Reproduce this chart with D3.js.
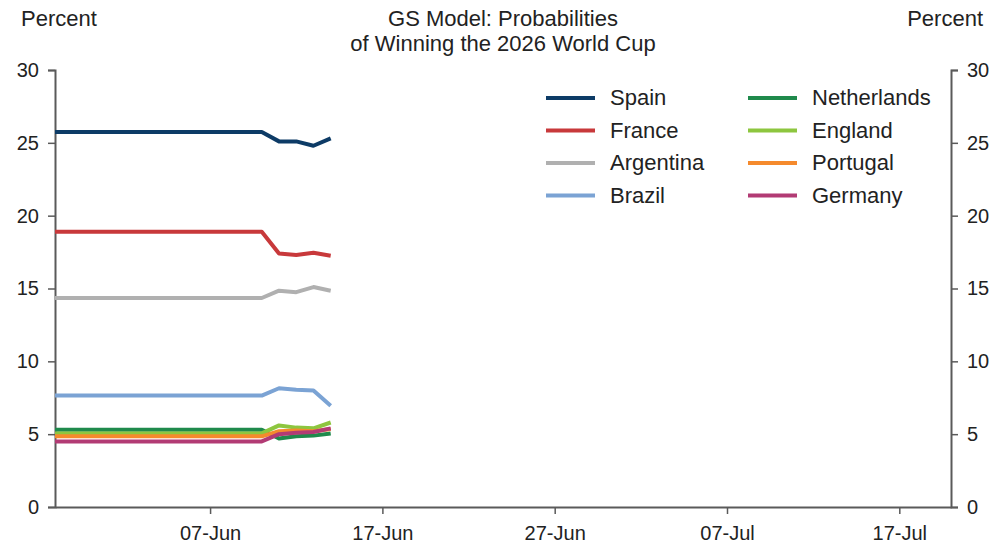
<!DOCTYPE html>
<html>
<head>
<meta charset="utf-8">
<script src="https://cdn.jsdelivr.net/npm/d3@7"></script>
<style>
  body { margin: 0; background: #fff; }
  svg text { font-family: "Liberation Sans", Arial, sans-serif; fill: #222; }
</style>
</head>
<body>
<svg width="1005" height="544"></svg>
<script>
const svg = d3.select("svg");
const margin = { top: 70, right: 54, bottom: 37, left: 55 };
const width = 1005 - margin.left - margin.right;
const height = 544 - margin.top - margin.bottom;

// data
const dates = ["2026-05-29", "2026-06-10", "2026-06-11", "2026-06-12", "2026-06-13", "2026-06-14"];
const countries = ["Spain", "France", "Argentina", "Brazil", "Netherlands", "England", "Portugal", "Germany"];
const spain = [25.75, 25.75, 25.1, 25.1, 24.8, 25.3];
const france = [18.9, 18.9, 17.4, 17.3, 17.45, 17.25];
const argentina = [14.35, 14.35, 14.85, 14.75, 15.1, 14.85];
const brazil = [7.65, 7.65, 8.15, 8.05, 8.0, 6.95];
const netherlands = [5.3, 5.3, 4.7, 4.85, 4.9, 5.05];
const england = [5.05, 5.05, 5.6, 5.45, 5.4, 5.8];
const portugal = [4.85, 4.85, 5.2, 5.25, 5.2, 5.35];
const germany = [4.5, 4.5, 5.0, 5.1, 5.15, 5.4];
const colors = ["#0d3b66", "#c8393b", "#b0b0b0", "#7ba3d4", "#1f8a4c", "#8dc63f", "#f58a2d", "#b23b74"];
const yTicks = [0, 5, 10, 15, 20, 25, 30];
const xTicks = ["2026-06-07", "2026-06-17", "2026-06-27", "2026-07-07", "2026-07-17"];

const parse = d3.timeParse("%Y-%m-%d");
const series = [spain, france, argentina, brazil, netherlands, england, portugal, germany]
  .map((vals, i) => ({ name: countries[i], color: colors[i],
    values: vals.map((v, j) => ({ date: parse(dates[j]), value: v })) }));

const x = d3.scaleTime()
  .domain([parse("2026-05-29"), parse("2026-07-20")])
  .range([0, width]);
const y = d3.scaleLinear().domain([0, 30]).range([height, 0]);

const g = svg.append("g").attr("transform", `translate(${margin.left},${margin.top})`);

// axes
const axisColor = "#5a5a5a";
function styleAxis(sel) {
  sel.select(".domain").attr("stroke", axisColor).attr("stroke-width", 2);
  sel.selectAll(".tick line").attr("stroke", axisColor).attr("stroke-width", 1.5);
  sel.selectAll(".tick text").attr("fill", "#222").style("font-size", "20px")
    .style("font-family", "'Liberation Sans', Arial, sans-serif");
}

g.append("g")
  .call(d3.axisLeft(y).tickValues(yTicks).tickSize(7).tickSizeOuter(7).tickPadding(9))
  .call(styleAxis);

g.append("g")
  .attr("transform", `translate(${width},0)`)
  .call(d3.axisRight(y).tickValues(yTicks).tickSize(7).tickSizeOuter(7).tickPadding(9))
  .call(styleAxis);

g.append("g")
  .attr("transform", `translate(0,${height})`)
  .call(d3.axisBottom(x).tickValues(xTicks.map(parse)).tickFormat(d3.timeFormat("%d-%b"))
    .tickSize(7).tickSizeOuter(0).tickPadding(12))
  .call(styleAxis);

// lines
const line = d3.line().x(d => x(d.date)).y(d => y(d.value));
g.selectAll(".series")
  .data(series)
  .enter()
  .append("path")
  .attr("class", "series")
  .attr("d", d => line(d.values))
  .attr("fill", "none")
  .attr("stroke", d => d.color)
  .attr("stroke-width", 4)
  .attr("stroke-linejoin", "round");

// legend
const legend = svg.append("g");
const items = legend.selectAll(".item")
  .data(series)
  .enter()
  .append("g")
  .attr("class", "item")
  .attr("transform", (d, i) => `translate(${i < 4 ? 546 : 748},${98 + (i % 4) * 32.5})`);
items.append("line")
  .attr("x1", 0).attr("x2", 49)
  .attr("stroke", d => d.color).attr("stroke-width", 4);
items.append("text")
  .attr("x", 64).attr("y", 7)
  .style("font-size", "22px")
  .text(d => d.name);

// titles
svg.append("text").attr("x", 503).attr("y", 26).attr("text-anchor", "middle")
  .style("font-size", "22px").text("GS Model: Probabilities");
svg.append("text").attr("x", 503).attr("y", 51).attr("text-anchor", "middle")
  .style("font-size", "22px").text("of Winning the 2026 World Cup");
svg.append("text").attr("x", 21).attr("y", 26).style("font-size", "22px").text("Percent");
svg.append("text").attr("x", 983).attr("y", 26).attr("text-anchor", "end")
  .style("font-size", "22px").text("Percent");
</script>
</body>
</html>
